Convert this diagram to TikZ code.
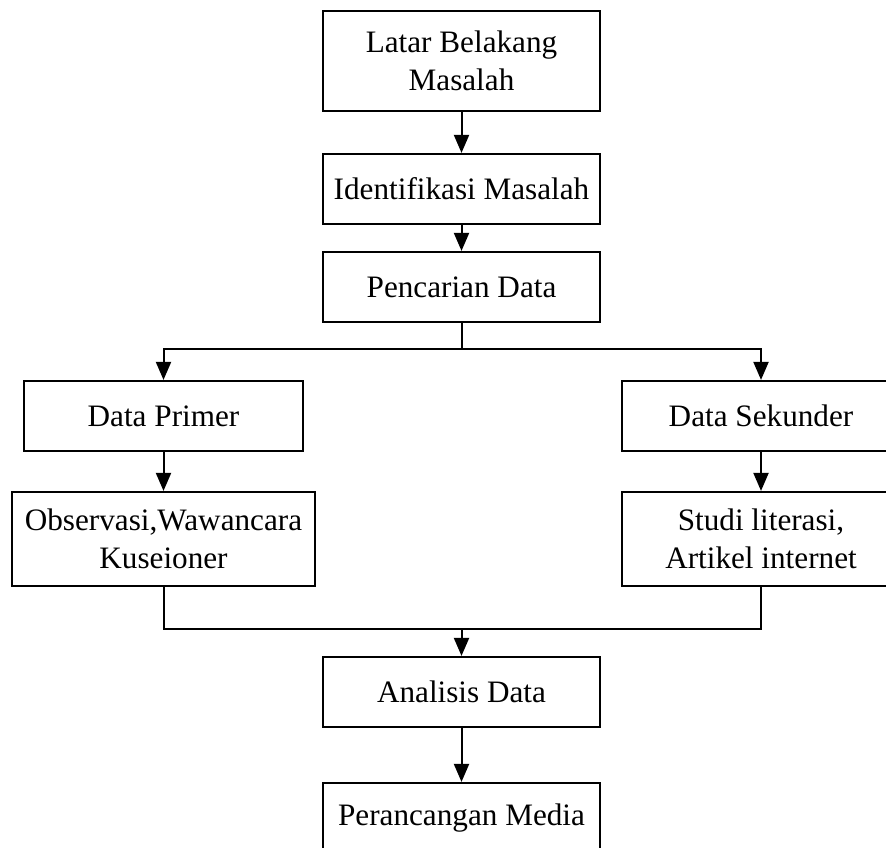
\documentclass[tikz,border=0pt]{standalone}
\usepackage{fontspec}
\setmainfont{Liberation Serif}
\usepackage{tikz}
\usetikzlibrary{positioning}
\usetikzlibrary{arrows.meta}
\tikzset{% boxes and arrows of the flow
        stepbox/.style={draw, line width=1.1pt, inner sep=0pt, align=center,
          minimum width=138.5pt, minimum height=35pt,
          font=\fontsize{15.6}{19}\selectfont},
        flow/.style={line width=1pt, -{Triangle[width=7.5pt,length=9pt]}},
        joint/.style={line width=1pt}
        }

\begin{document}
\begin{tikzpicture}[x=0.5pt, y=-0.5pt]
 \useasboundingbox (0,0) rectangle (886,847);
 \clip (0,0) rectangle (886,847);
 \node [stepbox, minimum height=50pt] (latar) at (461.5,61) {Latar Belakang\\Masalah};
 \node [stepbox] (ident) at (461.5,189) {Identifikasi Masalah};
 \node [stepbox] (cari) at (461.5,287) {Pencarian Data};
 \node [stepbox, minimum width=139.5pt] (primer) at (163.5,416) {Data Primer};
 \node [stepbox, minimum width=139pt] (sekunder) at (761,416) {Data Sekunder};
 \node [stepbox, minimum width=151.5pt, minimum height=47pt] (observasi) at (163.5,539) {Observasi,Wawancara\\Kuseioner};
 \node [stepbox, minimum width=139pt, minimum height=47pt] (studi) at (761,539) {Studi literasi,\\Artikel internet};
 \node [stepbox] (analisis) at (461.5,692) {Analisis Data};
 \node [stepbox] (media) at (461.5,818) {Perancangan Media};
 \coordinate (pisah) at (461.5,349);
 \coordinate (gabung) at (461.5,629);
\draw [flow] (latar) -- (ident);
\draw [flow] (ident) -- (cari);
\draw [joint] (cari) -- (pisah);
\draw [flow] (pisah) -| (primer);
\draw [flow] (pisah) -| (sekunder);
\draw [flow] (primer) -- (observasi);
\draw [flow] (sekunder) -- (studi);
\draw [joint] (observasi) |- (gabung);
\draw [joint] (studi) |- (gabung);
\draw [flow] (gabung) -- (analisis);
\draw [flow] (analisis) -- (media);
\end{tikzpicture}
\end{document}
